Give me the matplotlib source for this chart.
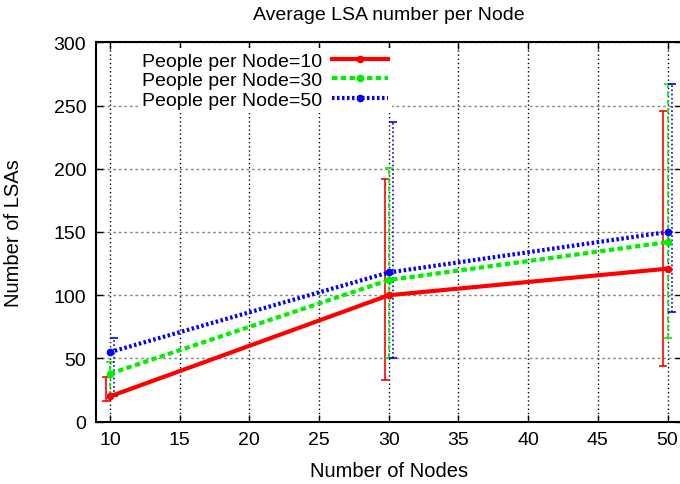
import matplotlib
matplotlib.use("Agg")
import matplotlib.pyplot as plt
import numpy as np

plt.rcParams['font.family'] = ['Liberation Sans', 'DejaVu Sans']

# x values and the three series (mean, lower end, upper end of the error bar)
nodes = [10, 30, 50]
labels = ["People per Node=10", "People per Node=30", "People per Node=50"]

ppn10 = [20, 100, 121]
ppn10_lo = [16, 33, 44]
ppn10_hi = [35, 192, 246]

ppn30 = [38, 112, 142]
ppn30_lo = [20, 50, 66]
ppn30_hi = [47, 201, 267]

ppn50 = [55, 118, 150]
ppn50_lo = [20, 50, 87]
ppn50_hi = [66, 237, 267]

xticks = [10, 15, 20, 25, 30, 35, 40, 45, 50]
yticks = [0, 50, 100, 150, 200, 250, 300]

fig = plt.figure(figsize=(6.8, 4.85), dpi=100)
ax = fig.add_axes([96/680, 62.3/485, 585.5/680, 379.4/485])

series = [
    (ppn10, ppn10_lo, ppn10_hi, '#ff0000', '-', -0.3),
    (ppn30, ppn30_lo, ppn30_hi, '#00ee00', (0, (1.3, 0.8)), 0.0),
    (ppn50, ppn50_lo, ppn50_hi, '#0000ff', (0, (0.6, 0.6)), 0.3),
]

for (y, lo, hi, c, ls, off), lab in zip(series, labels):
    y = np.array(y)
    yerr = [y - np.array(lo), np.array(hi) - y]
    eb = ax.errorbar(np.array(nodes) + off, y, yerr=yerr, fmt='none', ecolor=c,
                     elinewidth=1.2, capsize=3, capthick=1.2, zorder=2)
    for lc in eb[2]:
        lc.set_linestyle('-' if ls == '-' else ((0, (3, 2)) if off == 0 else (0, (1, 1.5))))
    ax.plot(nodes, y, color=c, linestyle=ls, linewidth=3, marker='o',
            markersize=4.5, label=lab, zorder=3)

ax.set_xlim(9, 51)
ax.set_ylim(0, 300)
ax.set_xticks(xticks)
ax.set_yticks(yticks)
ax.tick_params(direction='in', length=5, width=1, top=True, right=True,
               labelsize=14, pad=7)
ax.xaxis.grid(True, color='black', linestyle=(0, (1, 2)), linewidth=1)
ax.yaxis.grid(True, color='#888888', linestyle=(0, (2, 2)), linewidth=1)
ax.set_axisbelow(True)
for s in ax.spines.values():
    s.set_linewidth(1.5)

ax.set_title("Average LSA number per Node", fontsize=14, pad=17)
ax.set_xlabel("Number of Nodes", fontsize=14.5, labelpad=9)
ax.set_ylabel("Number of LSAs", fontsize=14.5, labelpad=22)

leg = ax.legend(loc='upper left', bbox_to_anchor=(0.065, 0.995), frameon=True,
                fancybox=False, framealpha=1, edgecolor='none', facecolor='white',
                markerfirst=False, fontsize=14, handlelength=2.9,
                labelspacing=0.1, handletextpad=0.5, borderaxespad=0.2,
                borderpad=0.2)

fig.savefig("out.png", dpi=100)
